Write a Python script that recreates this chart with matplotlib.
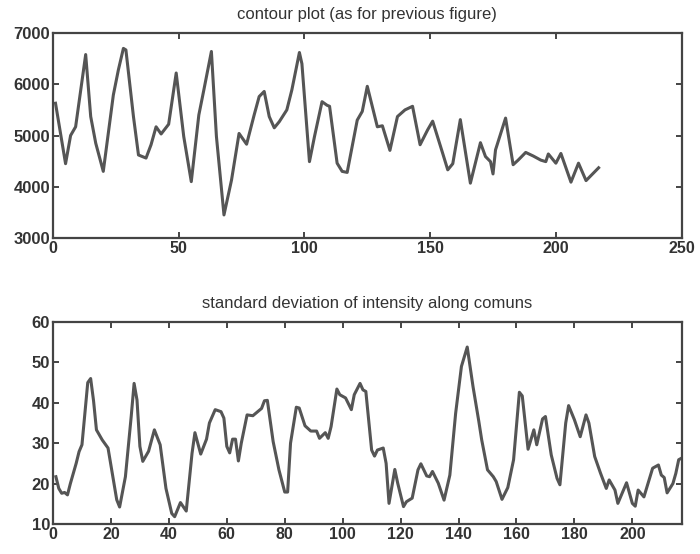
import matplotlib
matplotlib.use("Agg")
import matplotlib.pyplot as plt

# column index and values
contour_x = [1, 5, 7, 9, 13, 15, 17, 20, 24, 26, 28, 29, 32, 34, 37, 39, 41, 43, 46, 49,
             52, 55, 58, 60, 63, 65, 68, 71, 74, 77, 80, 82, 84, 86, 88, 90, 93, 95, 98, 99,
             102, 104, 107, 109, 110, 113, 115, 117, 121, 123, 125, 129, 131, 134, 137, 140,
             143, 146, 149, 151, 155, 157, 159, 162, 166, 170, 172, 174, 175, 176, 180, 183,
             185, 188, 191, 194, 196, 197, 200, 202, 206, 209, 212, 217]
contour_y = [5630, 4450, 5000, 5170, 6580, 5370, 4850, 4300, 5790, 6280, 6700, 6670, 5370,
             4620, 4560, 4820, 5170, 5030, 5220, 6220, 4980, 4100, 5400, 5890, 6640, 4980,
             3450, 4130, 5040, 4830, 5400, 5760, 5860, 5370, 5150, 5270, 5500, 5890, 6620,
             6400, 4490, 4980, 5660, 5590, 5570, 4460, 4300, 4280, 5300, 5470, 5960, 5170,
             5190, 4710, 5370, 5500, 5570, 4820, 5110, 5280, 4650, 4330, 4450, 5310, 4070,
             4860, 4590, 4490, 4250, 4720, 5340, 4430, 4520, 4670, 4600, 4520, 4490, 4640,
             4460, 4650, 4090, 4460, 4120, 4370]

std_x = [1, 2, 3, 4, 5, 6, 8, 9, 10, 12, 13, 14, 15, 17, 19, 20, 22, 23, 25, 27, 28, 29, 30,
         31, 33, 35, 37, 39, 41, 42, 44, 46, 48, 49, 51, 53, 54, 56, 58, 59, 60, 61, 62, 63,
         64, 65, 67, 69, 72, 73, 74, 76, 78, 80, 81, 82, 84, 85, 87, 89, 91, 92, 94, 95, 96,
         98, 99, 101, 103, 104, 106, 107, 108, 110, 111, 112, 114, 115, 116, 118, 119, 121,
         122, 124, 126, 127, 129, 130, 131, 133, 135, 137, 139, 141, 143, 145, 147, 148, 150,
         152, 153, 155, 157, 159, 161, 162, 164, 166, 167, 169, 170, 172, 174, 175, 177, 178,
         180, 182, 184, 185, 187, 189, 191, 192, 194, 195, 198, 200, 201, 202, 204, 207, 209,
         210, 211, 212, 214, 215, 216, 217]
std_y = [21.7, 18.8, 17.6, 17.8, 17.2, 20.0, 25.0, 27.9, 29.6, 45.0, 46.0, 40.5, 33.3, 30.8,
         28.8, 24.5, 16.0, 14.2, 21.7, 36.6, 44.8, 40.7, 29.2, 25.5, 28.0, 33.3, 29.6, 18.8,
         12.6, 11.8, 15.3, 13.2, 27.5, 32.6, 27.3, 31.0, 35.0, 38.3, 37.8, 36.2, 29.2, 27.6,
         31.0, 31.0, 25.6, 30.0, 37.0, 36.8, 38.6, 40.5, 40.6, 30.4, 23.4, 17.9, 17.9, 30.0,
         38.9, 38.7, 34.3, 33.0, 33.0, 31.2, 32.6, 31.2, 34.1, 43.4, 42.0, 41.2, 38.3, 42.0,
         44.8, 43.2, 42.8, 28.3, 26.8, 28.3, 28.8, 25.0, 15.1, 23.5, 20.1, 14.3, 15.5, 16.4,
         23.4, 24.9, 21.9, 21.7, 23.0, 20.1, 15.9, 22.1, 37.4, 49.0, 53.8, 44.0, 35.4, 30.8,
         23.4, 21.7, 20.5, 16.1, 19.0, 25.9, 42.6, 41.7, 28.5, 33.3, 29.6, 36.0, 36.6, 27.1,
         21.3, 19.7, 35.0, 39.3, 35.8, 31.6, 37.0, 35.0, 26.7, 22.6, 18.8, 20.9, 18.4, 15.1,
         20.2, 15.1, 14.4, 18.4, 16.7, 23.8, 24.6, 22.1, 21.5, 17.7, 20.0, 22.5, 25.9, 26.3]

plt.rcParams['font.family'] = ['Liberation Sans', 'DejaVu Sans']
line_col = '#555555'
ink = '#333333'

fig = plt.figure(figsize=(7.0, 5.54), dpi=100)
ax1 = fig.add_axes([0.0757, 0.5704, 0.898, 0.370])
ax2 = fig.add_axes([0.0757, 0.0542, 0.898, 0.3646])


def style_axes(ax):
    for sp in ax.spines.values():
        sp.set_color('#444444')
        sp.set_linewidth(1.6)
    ax.tick_params(direction='in', top=True, right=True, length=4, width=1.4,
                   color='#444444', labelcolor=ink, pad=2)
    ax.tick_params(axis='x', labelsize=11.5)
    ax.tick_params(axis='y', labelsize=12)
    for lab in ax.get_xticklabels() + ax.get_yticklabels():
        lab.set_fontweight('bold')


ax1.plot(contour_x, contour_y, color=line_col, lw=2.2, solid_joinstyle='round')
ax1.set_xlim(0, 250)
ax1.set_ylim(3000, 7000)
ax1.set_xticks(range(0, 251, 50))
ax1.set_yticks(range(3000, 7001, 1000))
ax1.set_title('contour plot (as for previous figure)', fontsize=12, color=ink, pad=10)
style_axes(ax1)

ax2.plot(std_x, std_y, color=line_col, lw=2.2, solid_joinstyle='round')
ax2.set_xlim(0, 217)
ax2.set_ylim(10, 60)
ax2.set_xticks(range(0, 201, 20))
ax2.set_yticks(range(10, 61, 10))
ax2.set_title('standard deviation of intensity along comuns', fontsize=12, color=ink, pad=10)
style_axes(ax2)

fig.savefig('out.png', dpi=100)
